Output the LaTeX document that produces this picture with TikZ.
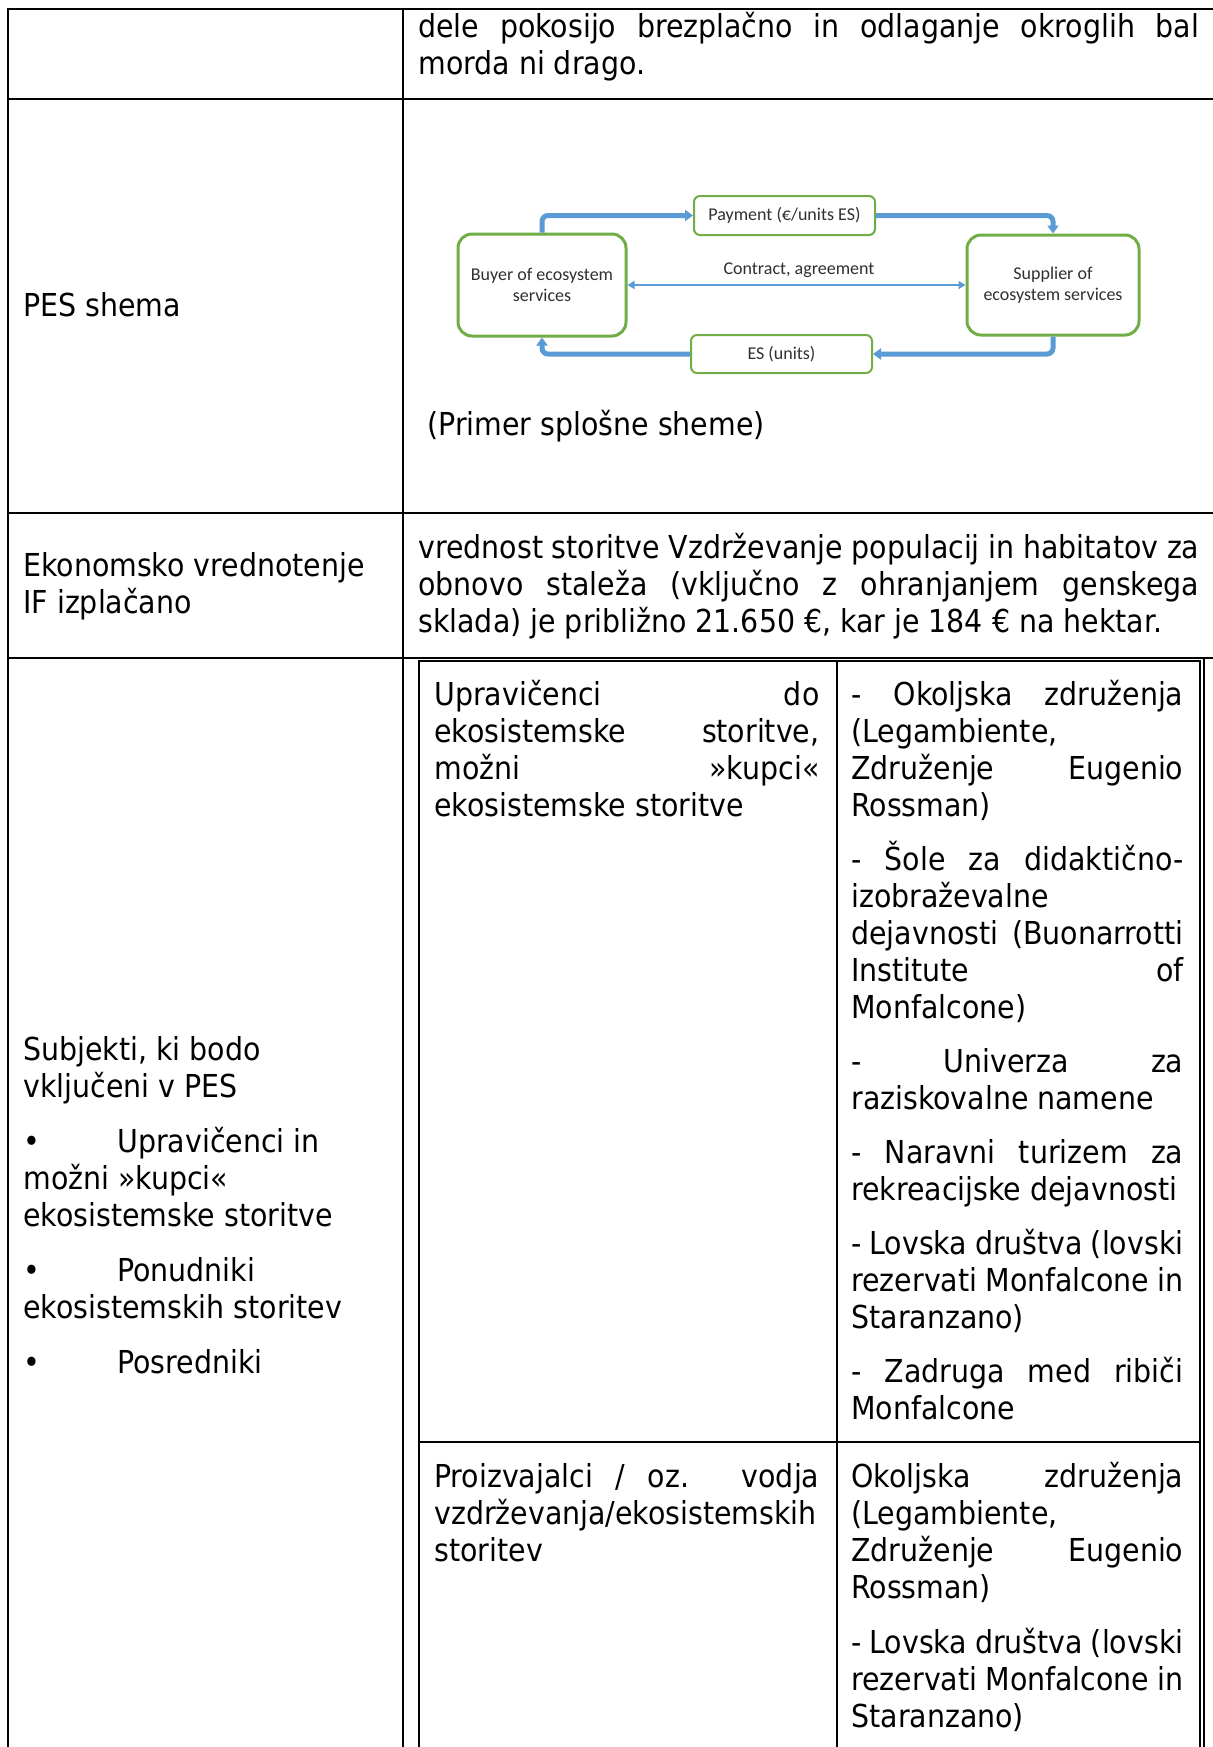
\documentclass[tikz,border=0pt]{standalone}
\usepackage{fontspec}
\setmainfont{DejaVu Sans Condensed}
\newfontfamily\diafont{Carlito}
\usetikzlibrary{arrows.meta}
\definecolor{boxgreen}{HTML}{70AD47}
\definecolor{arrblue}{HTML}{5B9BD5}
\definecolor{diatext}{HTML}{303030}
\newcommand{\mainsize}{\fontsize{15.8pt}{18.5pt}\selectfont}
\newcommand{\diasize}{\diafont\fontsize{9pt}{10.5pt}\selectfont}
\newcommand{\jst}[1]{\makebox[\linewidth][s]{#1}}
\newcommand{\bul}{\makebox[47pt][l]{•}}
\begin{document}
\begin{tikzpicture}[x=0.5pt,y=-0.5pt,
  rule/.style={line width=1.25pt,black},
  cell/.style={anchor=base west,inner sep=0pt,font=\mainsize},
  bigbox/.style={draw=boxgreen,line width=1.5pt,rounded corners=7pt,align=center,font=\diasize,text=diatext,inner sep=0pt},
  smallbox/.style={draw=boxgreen,line width=1pt,rounded corners=3pt,align=center,font=\diasize,text=diatext,inner sep=0pt},
  flow/.style={draw=arrblue,line width=2.5pt,rounded corners=3pt,-{Triangle[width=5.5pt,length=4pt]}},
  contract/.style={draw=arrblue,line width=1pt,{Triangle[width=4pt,length=3.5pt]}-{Triangle[width=4pt,length=3.5pt]}},
  lbl/.style={font=\diasize,text=diatext,inner sep=0pt}
]
\fill[white] (0,0) rectangle (1213,1747);
\useasboundingbox (0,0) rectangle (1213,1747);

% outer table
\draw[rule] (1213,9) -- (8,9) -- (8,1747);
\draw[rule] (8,99) -- (1213,99);
\draw[rule] (8,513) -- (1213,513);
\draw[rule] (8,658) -- (1213,658);
\draw[rule] (403,9) -- (403,1747);
\draw[rule] (1204,658) -- (1204,1747);
% inner table
\draw[rule] (419,1747) -- (419,661) -- (1200,661) -- (1200,1747);
\draw[rule] (837,661) -- (837,1747);
\draw[rule] (419,1442) -- (1200,1442);

% row 1
\node[cell] (r1) at (418,37) {\parbox[t]{390.5pt}{\jst{dele pokosijo brezplačno in odlaganje okroglih bal}\\morda ni drago.}};

% row 2
\node[cell] (pes) at (23,316) {PES shema};
\node[bigbox,minimum width=84pt,minimum height=51pt] (buyer) at (542,285) {Buyer of ecosystem\\services};
\node[bigbox,minimum width=86pt,minimum height=50pt] (supp) at (1053,285) {Supplier of\\ecosystem services};
\node[smallbox,minimum width=90.5pt,minimum height=19.5pt] (pay) at (784.5,215.5) {Payment (€/units ES)};
\node[smallbox,minimum width=90.5pt,minimum height=19pt] (es) at (781.5,354) {ES (units)};
\node[lbl] (clabel) at (799,270) {Contract, agreement};
\draw[flow] (buyer.north) |- (pay.west);
\draw[flow] (pay.east) -| (supp.north);
\draw[flow] (supp.south) |- (es.east);
\draw[flow] (es.west) -| (buyer.south);
\draw[contract] (buyer.east) -- (supp.west);
\node[cell] (primer) at (427,435) {(Primer splošne sheme)};

% row 3
\node[cell] (eko) at (23,576) {\parbox[t]{185pt}{Ekonomsko vrednotenje\\IF izplačano}};
\node[cell] (vred) at (418,558) {\parbox[t]{390.5pt}{\jst{vrednost storitve Vzdrževanje populacij in habitatov za}\\\jst{obnovo staleža (vključno z ohranjanjem genskega}\\sklada) je približno 21.650 €, kar je 184 € na hektar.}};

% row 4
\node[cell] (subj) at (23,1060) {\parbox[t]{185pt}{Subjekti, ki bodo\\vključeni v PES\\[9pt]\bul Upravičenci in\\možni »kupci«\\ekosistemske storitve\\[9pt]\bul Ponudniki\\ekosistemskih storitev\\[9pt]\bul Posredniki}};

\node[cell] (upr) at (434,705) {\parbox[t]{192.5pt}{\jst{Upravičenci do}\\\jst{ekosistemske storitve,}\\\jst{možni »kupci«}\\ekosistemske storitve}};

\node[cell] (kupci) at (851,705) {\parbox[t]{166pt}{\jst{- Okoljska združenja}\\(Legambiente,\\\jst{Združenje Eugenio}\\Rossman)\\[8.5pt]\jst{- Šole za didaktično-}\\izobraževalne\\\jst{dejavnosti (Buonarrotti}\\\jst{Institute of}\\Monfalcone)\\[8.5pt]\jst{- Univerza za}\\raziskovalne namene\\[8.5pt]\jst{- Naravni turizem za}\\rekreacijske dejavnosti\\[8.5pt]\jst{- Lovska društva (lovski}\\\jst{rezervati Monfalcone in}\\Staranzano)\\[8.5pt]\jst{- Zadruga med ribiči}\\Monfalcone}};

\node[cell] (proiz) at (434,1487) {\parbox[t]{192.5pt}{\jst{Proizvajalci / oz. vodja}\\vzdrževanja/ekosistemskih\\storitev}};

\node[cell] (ponud) at (851,1487) {\parbox[t]{166pt}{\jst{Okoljska združenja}\\(Legambiente,\\\jst{Združenje Eugenio}\\Rossman)\\[9pt]\jst{- Lovska društva (lovski}\\\jst{rezervati Monfalcone in}\\Staranzano)}};
\end{tikzpicture}
\end{document}
